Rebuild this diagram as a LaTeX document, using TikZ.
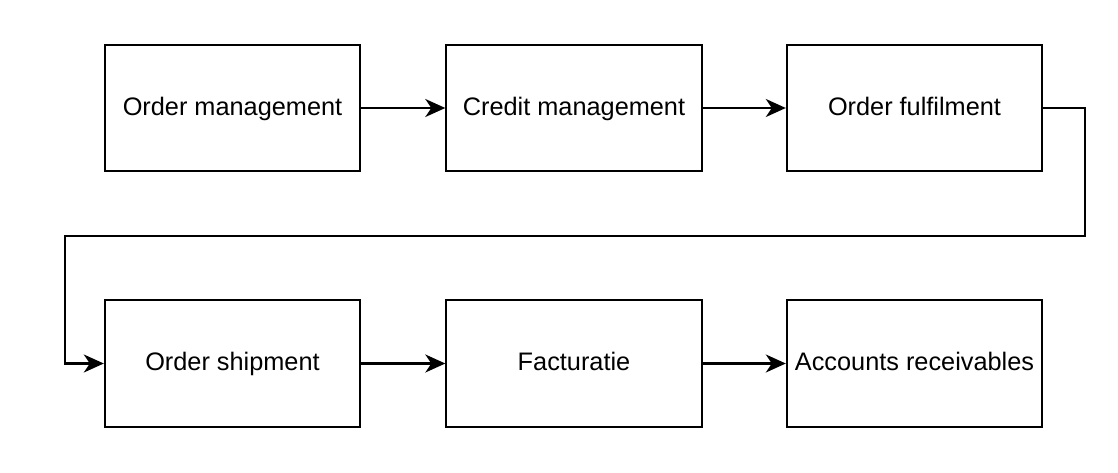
\documentclass[tikz,border=0pt]{standalone}
\usepackage{fontspec}
\setmainfont{Liberation Sans}
\usetikzlibrary{arrows.meta}

\tikzset{
        procbox/.style={draw, line width=1.5pt, minimum width=6.38cm, minimum height=3.16cm,
                inner sep=0pt, text height=0.5cm, text depth=0.15cm,
                font=\fontsize{18}{22}\selectfont},
        flow/.style={line width=1.5pt, -{Stealth[length=0.5cm, width=0.45cm, inset=0.15cm]}}
}

\begin{document}
\begin{tikzpicture}[x=0.025cm, y=-0.025cm]
        \useasboundingbox (0,0) rectangle (1118,473);
        % Top row
        \node [procbox] (order) at (232.5,108) {Order management};
        \node [procbox] (credit) at (574,108) {Credit management};
        \node [procbox] (fulfil) at (914.5,108) {Order fulfilment};
        % Bottom row
        \node [procbox] (ship) at (232.5,363.5) {Order shipment};
        \node [procbox] (factuur) at (574,363.5) {Facturatie};
        \node [procbox] (receive) at (914.5,363.5) {Accounts receivables};
        % Arrows
        \draw [flow] (order) -- (credit);
        \draw [flow] (credit) -- (fulfil);
        \draw [flow] (ship) -- (factuur);
        \draw [flow] (factuur) -- (receive);
        % Return line to the second row
        \coordinate (turn) at (1085,236);
        \coordinate (back) at (65,236);
        \draw [flow] (fulfil.east) -| (turn) -- (back) |- (ship.west);
\end{tikzpicture}
\end{document}
